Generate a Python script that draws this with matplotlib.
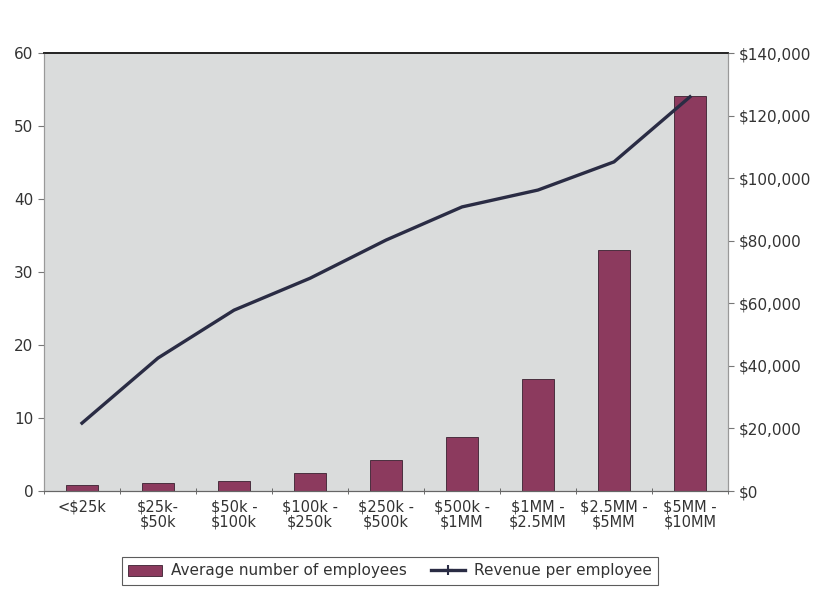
import matplotlib
matplotlib.use("Agg")
import matplotlib.pyplot as plt
import numpy as np
from matplotlib.ticker import FuncFormatter
from matplotlib.lines import Line2D

categories = ["<$25k", "$25k-\n$50k", "$50k -\n$100k", "$100k -\n$250k", "$250k -\n$500k",
              "$500k -\n$1MM", "$1MM -\n$2.5MM", "$2.5MM -\n$5MM", "$5MM -\n$10MM"]
avg_employees = [0.8, 1.1, 1.4, 2.5, 4.2, 7.4, 15.3, 33.0, 54.1]
revenue_per_employee = [21700, 42500, 57800, 68000, 80200, 90800, 96200, 105200, 126000]

plt.rcParams['font.family'] = ['DejaVu Sans']
text_color = "#333333"
fs = 11

fig = plt.figure(figsize=(8.34, 6.03), dpi=100)
ax = fig.add_axes([44/834, 1-491/603, (728-44)/834, (491-53)/603])
ax.set_facecolor("#dadcdc")

x = np.arange(len(categories))
bars = ax.bar(x, avg_employees, width=0.42, color="#8c3a5e", edgecolor="#3a2030",
              linewidth=0.6, label="Average number of employees", zorder=2)
ax.set_xlim(-0.5, len(categories) - 0.5)
ax.set_ylim(0, 60)
ax.set_yticks(range(0, 61, 10))
ax.set_xticks(x)
ax.set_xticklabels(categories, fontsize=fs - 0.5, color=text_color, linespacing=1.0)
ax.set_xticks(np.arange(-0.5, len(categories), 1), minor=True)
ax.tick_params(axis='x', which='major', length=0, pad=6)
ax.tick_params(axis='x', which='minor', length=4, direction='inout', color="#555555")
ax.tick_params(axis='y', labelsize=fs, labelcolor=text_color, length=4, color="#777777")

ax2 = ax.twinx()
line, = ax2.plot(x, revenue_per_employee, color="#2a2c44", linewidth=2.4,
                 label="Revenue per employee", zorder=3)
ax2.set_ylim(0, 140000)
ax2.set_yticks(range(0, 140001, 20000))
ax2.yaxis.set_major_formatter(FuncFormatter(lambda v, p: "${:,.0f}".format(v)))
ax2.tick_params(axis='y', labelsize=fs, labelcolor=text_color, length=4, color="#777777")

for a in (ax, ax2):
    a.spines['left'].set_color("#999999")
    a.spines['right'].set_color("#999999")
    a.spines['bottom'].set_color("#666666")
    a.spines['top'].set_color("#222222")
    a.spines['top'].set_linewidth(1.2)

line_handle = Line2D([], [], color="#2a2c44", linewidth=2.4, marker='+',
                     markersize=7, markeredgewidth=1.5)
leg = fig.legend([bars, line_handle], ["Average number of employees", "Revenue per employee"],
                 loc="center", bbox_to_anchor=(390/834, 1-571/603), ncol=2,
                 fontsize=fs, frameon=True, fancybox=False, edgecolor="#333333",
                 handlelength=2.2, columnspacing=1.6, borderpad=0.4, handletextpad=0.6)
leg.get_frame().set_linewidth(0.8)
for t in leg.get_texts():
    t.set_color(text_color)

fig.savefig("out.png", dpi=100)
